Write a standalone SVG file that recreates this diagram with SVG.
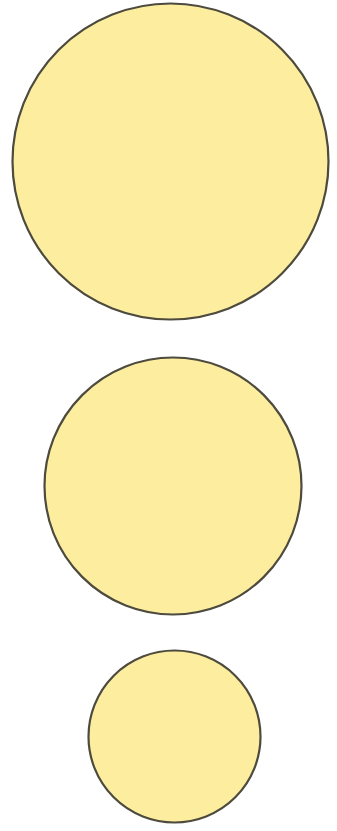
<svg xmlns="http://www.w3.org/2000/svg" width="337" height="831" viewBox="0 0 337 831">
<style>
.c{fill:#fdee9f;stroke:#4d4a3e;stroke-width:2.2}
</style>
<rect width="337" height="831" fill="#ffffff"/>
<g id="circle-large"><circle class="c" cx="170.5" cy="161.5" r="158"/></g>
<g id="circle-medium"><circle class="c" cx="173" cy="486" r="128.5"/></g>
<g id="circle-small"><circle class="c" cx="174.5" cy="736.5" r="86"/></g>
</svg>
